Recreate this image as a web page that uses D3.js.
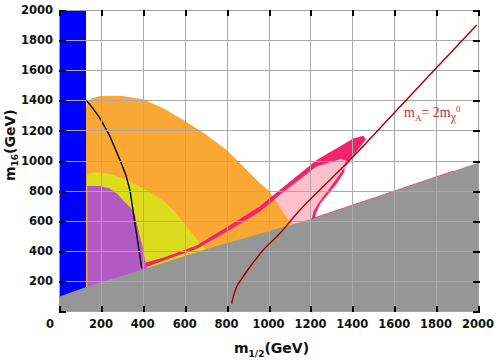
<!DOCTYPE html>
<html>
<head>
<meta charset="utf-8">
<script src="https://cdnjs.cloudflare.com/ajax/libs/d3/7.8.5/d3.min.js"></script>
<style>
  body { margin: 0; background: #fff; }
  svg { display: block; }
  .axis text { font-family: "DejaVu Sans", sans-serif; font-size: 11.5px; font-weight: bold; fill: #111; }
  .axis-title { font-family: "DejaVu Sans", sans-serif; font-size: 14px; font-weight: bold; fill: #111; }
  .line-label { font-family: "Liberation Serif", "DejaVu Serif", serif; font-size: 14px; fill: #c0302c; }
</style>
</head>
<body>
<div class="chart"></div>
<script>
// tick values
var xTickValues = [0, 200, 400, 600, 800, 1000, 1200, 1400, 1600, 1800, 2000];
var yTickValues = [0, 200, 400, 600, 800, 1000, 1200, 1400, 1600, 1800, 2000];
var gridValues = [200, 400, 600, 800, 1000, 1200, 1400, 1600, 1800];

// regions as [m1/2, m16] pairs (GeV)
var blueRegion = [[0, 0], [0, 2000], [129, 2000], [129, 1400], [133, 1000], [135, 800],
  [138, 600], [142, 400], [150, 250], [156, 150], [156, 0]];

var orangeRegion = [[129, 0], [129, 1360], [140, 1395], [160, 1415], [200, 1428], [259, 1431],
  [300, 1428], [402, 1407], [500, 1345], [593, 1269], [700, 1175], [800, 1070], [912, 915],
  [959, 849], [999, 804], [1050, 700], [1087, 620], [1115, 575], [1115, 0]];

var yellowRegion = [[133, 0], [133, 905], [150, 918], [196, 922], [260, 905], [339, 862],
  [434, 790], [500, 730], [546, 671], [610, 560], [673, 450], [705, 400], [712, 0]];

var purpleRegion = [[135, 0], [135, 830], [195, 830], [240, 815], [280, 775], [310, 730],
  [340, 690], [360, 650], [372, 580], [385, 500], [400, 420], [410, 340], [420, 280], [420, 0]];

var lightPinkRegion = [[900, 0], [900, 650], [959, 650], [1071, 790], [1230, 960], [1345, 1010],
  [1368, 1000], [1362, 920], [1330, 849], [1252, 716], [1228, 650], [1225, 0]];

var crimsonRegion = [[415, 322], [500, 356], [657, 436], [800, 556], [959, 696], [1071, 824],
  [1230, 1003], [1405, 1147], [1453, 1165], [1465, 1140], [1389, 1003], [1309, 849],
  [1238, 716], [1214, 660], [1206, 608], [1222, 614], [1226, 650], [1248, 716], [1326, 849],
  [1360, 920], [1368, 1000], [1345, 1010], [1230, 960], [1071, 790], [959, 660], [800, 526],
  [657, 412], [500, 336], [418, 292], [415, 294]];

var grayEdge = [[0, 95], [150, 170], [400, 275], [700, 410], [1000, 530], [1200, 610],
  [1500, 750], [2000, 985]];
var grayFringe = [[1200, 610], [1500, 750], [1880, 929]];

var blackCurve = [[129, 1402], [160, 1350], [196, 1280], [240, 1170], [291, 1003], [320, 900],
  [339, 800], [353, 671], [365, 560], [378, 440], [395, 284]];

var redLine = [[824, 50], [848, 161], [880, 230], [912, 294], [975, 405], [1055, 516],
  [1150, 671], [1389, 1003], [1524, 1203], [1795, 1606], [1994, 1900]];

var svgWidth = 498;
var svgHeight = 361;
var margin = {top: 10, right: 20, bottom: 50, left: 59};
var width = svgWidth - margin.left - margin.right;
var height = svgHeight - margin.top - margin.bottom;

var svg = d3.select('.chart')
  .append('svg')
  .attr('width', svgWidth)
  .attr('height', svgHeight);

// scales in page pixels
var x = d3.scaleLinear().domain([0, 2000]).range([margin.left, margin.left + width]);
var y = d3.scaleLinear().domain([0, 2000]).range([margin.top + height, margin.top]);

var path = d3.line().x(function(d) { return x(d[0]); }).y(function(d) { return y(d[1]); });
var smoothPath = d3.line().curve(d3.curveCatmullRom)
  .x(function(d) { return x(d[0]); }).y(function(d) { return y(d[1]); });
function area(pts) { return path(pts) + 'Z'; }

var defs = svg.append('defs');
defs.append('clipPath').attr('id', 'plot-clip')
  .append('rect').attr('x', margin.left).attr('y', margin.top)
  .attr('width', width).attr('height', height);
var plot = svg.append('g').attr('clip-path', 'url(#plot-clip)');

plot.append('path').attr('d', area(blueRegion)).attr('fill', '#0000ff');
plot.append('path').attr('d', area(lightPinkRegion)).attr('fill', '#ffc0cb');
plot.append('path').attr('d', area(orangeRegion)).attr('fill', '#fba734');
plot.append('path').attr('d', area(yellowRegion)).attr('fill', '#dedc1e');
plot.append('path').attr('d', area(purpleRegion)).attr('fill', '#b25ac4');
plot.append('path').attr('d', area(crimsonRegion)).attr('fill', '#f2246b');

// gray region under the edge
var grayRegion = [[0, 0]].concat(grayEdge).concat([[2000, 0]]);
plot.append('path').attr('d', area(grayRegion)).attr('fill', '#969696');
plot.append('path').attr('d', path(grayFringe))
  .attr('fill', 'none').attr('stroke', '#f2246b').attr('stroke-width', 1).attr('opacity', 0.7);

plot.append('path').attr('d', path(blackCurve))
  .attr('fill', 'none').attr('stroke', '#000').attr('stroke-width', 1.4);

// grid lines over the fills, drawn as 1px filled rects on whole pixels
var grid = svg.append('g').attr('fill', '#a9a9a9').attr('shape-rendering', 'crispEdges');
grid.selectAll('rect.vg').data(gridValues).enter().append('rect')
  .attr('class', 'vg')
  .attr('x', function(d) { return Math.round(x(d)); })
  .attr('y', Math.round(y(2000)))
  .attr('width', 1)
  .attr('height', Math.round(y(0)) - Math.round(y(2000)));
grid.selectAll('rect.hg').data(gridValues).enter().append('rect')
  .attr('class', 'hg')
  .attr('x', Math.round(x(0)))
  .attr('y', function(d) { return Math.round(y(d)); })
  .attr('width', Math.round(x(2000)) - Math.round(x(0)))
  .attr('height', 1);

svg.append('path').attr('d', smoothPath(redLine)).attr('clip-path', 'url(#plot-clip)')
  .attr('fill', 'none').attr('stroke', '#a80000').attr('stroke-width', 1.4);

// frame, also as filled rects
var fx0 = Math.round(x(0)), fx1 = Math.round(x(2000)), fy0 = Math.round(y(0)), fy1 = Math.round(y(2000));
var frame = svg.append('g').attr('fill', '#a0a0a0').attr('shape-rendering', 'crispEdges');
frame.append('rect').attr('x', fx0).attr('y', fy1).attr('width', fx1 - fx0 + 1).attr('height', 1);
frame.append('rect').attr('x', fx0).attr('y', fy0).attr('width', fx1 - fx0 + 1).attr('height', 1);
frame.append('rect').attr('x', fx0).attr('y', fy1).attr('width', 1).attr('height', fy0 - fy1 + 1);
frame.append('rect').attr('x', fx1).attr('y', fy1).attr('width', 1).attr('height', fy0 - fy1 + 1);

// inward black ticks on all four sides
var ticks = svg.append('g').attr('fill', '#000').attr('shape-rendering', 'crispEdges');
ticks.selectAll('rect.tb').data(xTickValues).enter().append('rect')
  .attr('class', 'tb')
  .attr('x', function(d) { return Math.round(x(d)); }).attr('y', fy0 - 5)
  .attr('width', 2).attr('height', 6);
ticks.selectAll('rect.tt').data(xTickValues).enter().append('rect')
  .attr('class', 'tt')
  .attr('x', function(d) { return Math.round(x(d)); }).attr('y', fy1)
  .attr('width', 2).attr('height', 6);
ticks.selectAll('rect.tl').data(yTickValues).enter().append('rect')
  .attr('class', 'tl')
  .attr('x', fx0).attr('y', function(d) { return Math.round(y(d)); })
  .attr('width', 7).attr('height', 2);
ticks.selectAll('rect.tr').data(yTickValues).enter().append('rect')
  .attr('class', 'tr')
  .attr('x', fx1 - 5).attr('y', function(d) { return Math.round(y(d)); })
  .attr('width', 7).attr('height', 2);

// tick labels
var axisText = svg.append('g').attr('class', 'axis');
axisText.selectAll('.xl').data(xTickValues).enter().append('text')
  .attr('x', function(d) { return d === 0 ? x(d) - 9 : x(d); })
  .attr('y', y(0) + 17)
  .attr('text-anchor', 'middle')
  .text(function(d) { return String(d); });
axisText.selectAll('.yl').data(yTickValues.filter(function(d) { return d > 0; })).enter().append('text')
  .attr('x', x(0) - 6)
  .attr('y', function(d) { return y(d); })
  .attr('dy', '0.36em')
  .attr('text-anchor', 'end')
  .text(function(d) { return String(d); });

// curve label
var lbl = svg.append('text').attr('class', 'line-label').attr('x', 404).attr('y', 117);
lbl.append('tspan').text('m');
lbl.append('tspan').attr('dy', 4).style('font-size', '9px').text('A');
lbl.append('tspan').attr('dy', -4).text('= 2m');
lbl.append('tspan').attr('dy', 4).style('font-size', '12px').text('\u03c7');
lbl.append('tspan').attr('dy', -9).style('font-size', '9px').text('0');

// axis titles
var xt = svg.append('text').attr('class', 'axis-title').attr('x', 234).attr('y', 353);
xt.append('tspan').text('m');
xt.append('tspan').attr('dy', 4).style('font-size', '9px').text('1/2');
xt.append('tspan').attr('dy', -4).text('(GeV)');

var yt = svg.append('text').attr('class', 'axis-title')
  .attr('transform', 'translate(15,181) rotate(-90)');
yt.append('tspan').text('m');
yt.append('tspan').attr('dy', 3).style('font-size', '9px').text('16');
yt.append('tspan').attr('dy', -3).text('(GeV)');
</script>
</body>
</html>
